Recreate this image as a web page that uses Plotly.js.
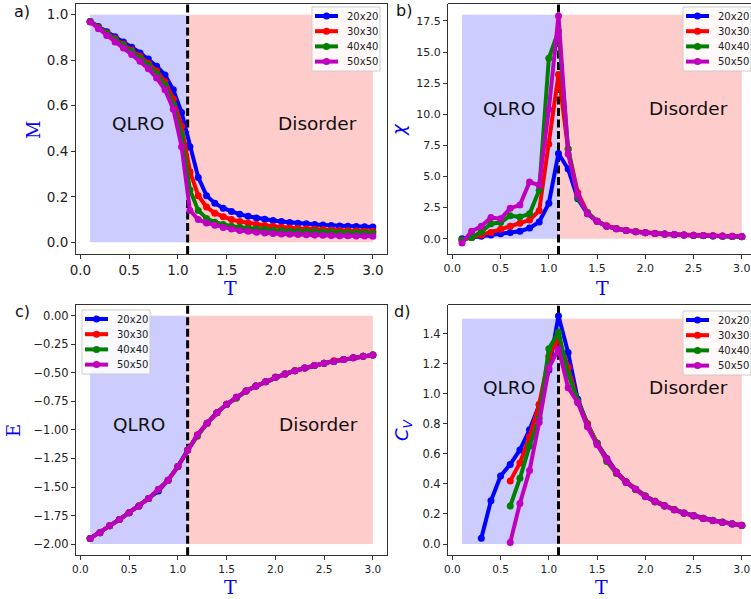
<!DOCTYPE html>
<html>
<head>
<meta charset="utf-8">
<script src="https://cdn.plot.ly/plotly-3.0.1.min.js"></script>
<style>html,body{margin:0;padding:0;background:#fff;}#chart{width:751px;height:599px;}</style>
</head>
<body>
<div id="chart"></div>
<script>
// ---------------- DATA ----------------
const seriesNames = ['20x20', '30x30', '40x40', '50x50'];
const seriesColors = ['#0000ff', '#ff0000', '#008000', '#bf00bf'];

// Panel a) magnetisation (finer temperature grid)
const T_M = [0.100,0.185,0.271,0.356,0.441,0.526,0.612,0.697,0.782,0.868,0.953,1.038,1.124,1.209,1.294,1.379,1.465,1.550,1.635,1.721,1.806,1.891,1.976,2.062,2.147,2.232,2.318,2.403,2.488,2.574,2.659,2.744,2.829,2.915,3.000];
const M_20 = [0.970,0.948,0.925,0.903,0.880,0.857,0.832,0.805,0.773,0.735,0.670,0.570,0.420,0.285,0.205,0.172,0.150,0.135,0.123,0.114,0.107,0.101,0.096,0.091,0.087,0.084,0.081,0.078,0.076,0.074,0.072,0.071,0.069,0.068,0.067];
const M_30 = [0.970,0.945,0.920,0.895,0.870,0.845,0.817,0.787,0.752,0.705,0.630,0.510,0.310,0.205,0.155,0.128,0.112,0.100,0.091,0.084,0.078,0.074,0.070,0.066,0.063,0.061,0.059,0.057,0.055,0.053,0.052,0.051,0.050,0.049,0.048];
const M_40 = [0.970,0.943,0.917,0.891,0.865,0.838,0.809,0.778,0.740,0.690,0.605,0.470,0.230,0.140,0.105,0.088,0.078,0.071,0.066,0.062,0.058,0.056,0.053,0.051,0.049,0.048,0.047,0.046,0.045,0.044,0.043,0.042,0.042,0.041,0.040];
const M_50 = [0.968,0.938,0.908,0.880,0.853,0.825,0.795,0.762,0.722,0.670,0.585,0.420,0.140,0.100,0.085,0.075,0.065,0.058,0.052,0.048,0.044,0.041,0.039,0.037,0.035,0.034,0.033,0.032,0.031,0.030,0.029,0.029,0.028,0.028,0.027];

// Panels b) c) d) temperature grid
const T = [0.1,0.2,0.3,0.4,0.5,0.6,0.7,0.8,0.9,1.0,1.1,1.2,1.3,1.4,1.5,1.6,1.7,1.8,1.9,2.0,2.1,2.2,2.3,2.4,2.5,2.6,2.7,2.8,2.9,3.0];

// b) susceptibility
const CHI_20 = [0.0,0.1,0.2,0.3,0.4,0.5,0.6,0.85,1.35,2.85,6.85,5.6,3.2,2.0,1.4,1.0,0.8,0.65,0.55,0.47,0.42,0.37,0.33,0.30,0.27,0.25,0.22,0.20,0.18,0.16];
const CHI_30 = [-0.1,0.1,0.3,0.5,0.75,1.0,1.25,1.5,2.25,7.6,13.2,7.2,3.7,2.1,1.4,1.05,0.82,0.68,0.57,0.49,0.43,0.38,0.34,0.30,0.27,0.25,0.23,0.21,0.19,0.17];
const CHI_40 = [-0.1,0.1,0.55,1.2,1.3,1.85,1.75,2.0,3.9,14.5,16.7,7.2,3.3,2.1,1.4,1.0,0.8,0.65,0.55,0.47,0.41,0.36,0.32,0.29,0.26,0.24,0.22,0.20,0.18,0.16];
const CHI_50 = [-0.35,0.6,1.0,1.7,1.6,2.45,2.7,4.55,4.3,10.4,17.9,6.8,3.5,2.0,1.4,1.0,0.8,0.65,0.55,0.48,0.42,0.37,0.33,0.30,0.27,0.25,0.23,0.21,0.19,0.17];

// c) energy
const E_20 = [-1.95,-1.90,-1.84,-1.785,-1.725,-1.667,-1.60,-1.535,-1.44,-1.32,-1.175,-1.045,-0.942,-0.850,-0.776,-0.715,-0.660,-0.616,-0.578,-0.540,-0.510,-0.482,-0.458,-0.437,-0.417,-0.400,-0.384,-0.369,-0.356,-0.344];
const E_30 = [-1.95,-1.90,-1.84,-1.785,-1.725,-1.667,-1.60,-1.522,-1.44,-1.32,-1.175,-1.045,-0.942,-0.850,-0.776,-0.715,-0.660,-0.616,-0.578,-0.540,-0.510,-0.482,-0.458,-0.437,-0.417,-0.394,-0.384,-0.369,-0.356,-0.344];
const E_40 = [-1.95,-1.90,-1.84,-1.785,-1.725,-1.667,-1.60,-1.522,-1.44,-1.32,-1.175,-1.055,-0.942,-0.850,-0.776,-0.722,-0.660,-0.616,-0.578,-0.540,-0.510,-0.482,-0.458,-0.437,-0.417,-0.400,-0.384,-0.369,-0.356,-0.344];
const E_50 = [-1.95,-1.90,-1.84,-1.785,-1.725,-1.667,-1.60,-1.520,-1.44,-1.32,-1.175,-1.045,-0.942,-0.850,-0.776,-0.715,-0.660,-0.616,-0.578,-0.540,-0.510,-0.482,-0.458,-0.437,-0.417,-0.400,-0.384,-0.369,-0.356,-0.344];

// d) specific heat
const CV_20 = [null,null,0.038,0.288,0.453,0.530,0.626,0.760,0.925,1.158,1.518,1.274,0.963,0.800,0.670,0.570,0.480,0.415,0.365,0.320,0.285,0.255,0.230,0.207,0.190,0.172,0.158,0.146,0.135,0.125];
const CV_30 = [null,null,null,null,null,0.420,0.540,0.714,0.930,1.250,1.370,1.176,0.950,0.800,0.672,0.565,0.480,0.415,0.364,0.320,0.285,0.255,0.230,0.207,0.188,0.171,0.157,0.145,0.134,0.125];
const CV_40 = [null,null,null,null,null,0.253,0.437,0.652,0.837,1.300,1.410,1.130,0.950,0.785,0.670,0.550,0.470,0.410,0.362,0.318,0.280,0.252,0.228,0.205,0.187,0.170,0.156,0.144,0.133,0.124];
const CV_50 = [null,null,null,null,null,0.011,0.270,0.490,0.810,1.170,1.300,1.040,0.940,0.780,0.660,0.560,0.475,0.410,0.364,0.315,0.282,0.253,0.226,0.204,0.186,0.169,0.155,0.144,0.133,0.124];

// phases
const T_LOW = 0.1, T_C = 1.1, T_HIGH = 3.0;
const phaseLabels = ['QLRO', 'Disorder'];
const panelLabels = ['a)', 'b)', 'c)', 'd)'];

// ticks
const T_TICKS = [0, 0.5, 1.0, 1.5, 2.0, 2.5, 3.0];
const T_TICKTEXT = ['0.0', '0.5', '1.0', '1.5', '2.0', '2.5', '3.0'];
const M_TICKS = [0, 0.2, 0.4, 0.6, 0.8, 1.0];
const M_TICKTEXT = ['0.0', '0.2', '0.4', '0.6', '0.8', '1.0'];
const CHI_TICKS = [0, 2.5, 5, 7.5, 10, 12.5, 15, 17.5];
const CHI_TICKTEXT = ['0.0', '2.5', '5.0', '7.5', '10.0', '12.5', '15.0', '17.5'];
const E_TICKS = [0, -0.25, -0.5, -0.75, -1.0, -1.25, -1.5, -1.75, -2.0];
const E_TICKTEXT = ['0.00', '\u22120.25', '\u22120.50', '\u22120.75', '\u22121.00', '\u22121.25', '\u22121.50', '\u22121.75', '\u22122.00'];
const CV_TICKS = [0, 0.2, 0.4, 0.6, 0.8, 1.0, 1.2, 1.4];
const CV_TICKTEXT = ['0.0', '0.2', '0.4', '0.6', '0.8', '1.0', '1.2', '1.4'];

// ---------------- BUILD ----------------
const W = 751, H = 599;
const px = v => v / W;          // pixel x -> paper
const py = v => 1 - v / H;      // pixel y -> paper

const panels = [
  {x: T_M, ys: [M_20, M_30, M_40, M_50], fill: [0, 1.0], ylab: 'M', yfont: 'DejaVu Serif',
   yticks: M_TICKS, ytext: M_TICKTEXT, yr: [-0.0514, 1.049], xTick: 13.5, yTick: 13.5, textY: 0.52},
  {x: T, ys: [CHI_20, CHI_30, CHI_40, CHI_50], fill: [0, 18], ylab: '<i>\u03c7</i>', yfont: 'DejaVu Sans',
   yticks: CHI_TICKS, ytext: CHI_TICKTEXT, yr: [-1.23, 18.9], xTick: 11, yTick: 11, textY: 10.5},
  {x: T, ys: [E_20, E_30, E_40, E_50], fill: [-2.0, 0], ylab: 'E', yfont: 'DejaVu Serif',
   yticks: E_TICKS, ytext: E_TICKTEXT, yr: [-2.098, 0.098], xTick: 10.5, yTick: 11.5, textY: -0.957},
  {x: T, ys: [CV_20, CV_30, CV_40, CV_50], fill: [0, 1.5], ylab: '<i>C<sub>V</sub></i>', yfont: 'DejaVu Sans',
   yticks: CV_TICKS, ytext: CV_TICKTEXT, yr: [-0.075, 1.594], xTick: 10.5, yTick: 11.5, textY: 1.043}
];

// geometry (pixels)
const xDomPx = [[76, 387], [448, 751], [76, 387], [448, 751]];
const xRanges = [[-0.045, 3.145], [-0.045, 3.095], [-0.045, 3.145], [-0.045, 3.095]];
const yDomPx = [[3.5, 254], [3.5, 254], [304.5, 555.3], [304.5, 555.3]];
const ylabPos = [[33, 130], [398, 130], [13, 430], [403, 430]];
const xlabPos = [[230, 288], [602, 288], [230, 587], [601, 587]];
const panelLabPos = [[22, 11], [404, 10], [22, 311], [402, 311]];
const phaseX = [[0.59, 2.43], [0.585, 2.45], [0.6, 2.44], [0.585, 2.45]];
const legendBox = [[312, 7], [683, 7], [82, 310], [683, 311]];   // top-left corner of each legend

const traces = [];
const shapes = [];
const annotations = [];
const layout = {
  width: W, height: H, autosize: false,
  margin: {l: 0, r: 0, t: 0, b: 0},
  paper_bgcolor: '#ffffff', plot_bgcolor: '#ffffff',
  font: {family: 'DejaVu Sans', color: '#222'},
  showlegend: false
};

panels.forEach((p, i) => {
  const n = i + 1;
  const xa = 'x' + (i ? n : ''), ya = 'y' + (i ? n : '');
  const xkey = 'xaxis' + (i ? n : ''), ykey = 'yaxis' + (i ? n : '');
  const mirror = (i % 2 === 0);

  p.ys.forEach((ys, s) => {
    traces.push({
      type: 'scatter', mode: 'lines+markers',
      x: p.x, y: ys, xaxis: xa, yaxis: ya,
      name: seriesNames[s],
      line: {color: seriesColors[s], width: 4},
      marker: {color: seriesColors[s], size: 7}
    });
  });

  layout[xkey] = {
    domain: [px(xDomPx[i][0]), px(xDomPx[i][1])], range: xRanges[i], anchor: ya,
    showgrid: false, zeroline: false, showline: true, linecolor: '#333', linewidth: 1, mirror: mirror,
    ticks: 'outside', ticklen: 4, tickwidth: 1, tickcolor: '#333',
    tickmode: 'array', tickvals: T_TICKS, ticktext: T_TICKTEXT,
    tickfont: {size: p.xTick, family: 'DejaVu Sans', color: '#222'}
  };
  layout[ykey] = {
    domain: [py(yDomPx[i][1]), py(yDomPx[i][0])], range: p.yr, anchor: xa,
    showgrid: false, zeroline: false, showline: true, linecolor: '#333', linewidth: 1, mirror: mirror,
    ticks: 'outside', ticklen: 4, tickwidth: 1, tickcolor: '#333',
    tickmode: 'array', tickvals: p.yticks, ticktext: p.ytext,
    tickfont: {size: p.yTick, family: 'DejaVu Sans', color: '#222'}
  };

  // phase regions
  shapes.push({type: 'rect', xref: xa, yref: ya, x0: T_LOW, x1: T_C, y0: p.fill[0], y1: p.fill[1],
    fillcolor: 'rgb(204,204,255)', line: {width: 0}, layer: 'below'});
  shapes.push({type: 'rect', xref: xa, yref: ya, x0: T_C, x1: T_HIGH, y0: p.fill[0], y1: p.fill[1],
    fillcolor: 'rgb(255,204,204)', line: {width: 0}, layer: 'below'});
  // critical temperature
  shapes.push({type: 'line', xref: xa, yref: ya, x0: T_C, x1: T_C, y0: p.yr[0], y1: p.yr[1],
    line: {color: '#000', width: 3, dash: '8px,3.5px'}, layer: 'below'});
  if (!mirror) {
    shapes.push({type: 'line', xref: xa + ' domain', yref: ya + ' domain', x0: 0, x1: 1, y0: 1, y1: 1,
      line: {color: '#333', width: 1}});
  }

  // phase labels
  phaseLabels.forEach((lab, k) => {
    annotations.push({xref: xa, yref: ya, x: phaseX[i][k], y: p.textY, text: lab, showarrow: false,
      font: {size: 18.5, family: 'DejaVu Sans', color: '#111'}});
  });
  // axis titles
  annotations.push({xref: 'paper', yref: 'paper', x: px(ylabPos[i][0]), y: py(ylabPos[i][1]),
    xanchor: 'center', yanchor: 'middle', text: p.ylab, textangle: -90, showarrow: false,
    font: {size: 18, family: p.yfont, color: '#0000ff'}});
  annotations.push({xref: 'paper', yref: 'paper', x: px(xlabPos[i][0]), y: py(xlabPos[i][1]),
    xanchor: 'center', yanchor: 'middle', text: 'T', showarrow: false,
    font: {size: 19, family: 'DejaVu Serif', color: '#0000ff'}});
  // panel letters
  annotations.push({xref: 'paper', yref: 'paper', x: px(panelLabPos[i][0]), y: py(panelLabPos[i][1]),
    xanchor: 'center', yanchor: 'middle', text: panelLabels[i], showarrow: false,
    font: {size: 16, family: 'DejaVu Sans', color: '#111'}});

  // legend (matplotlib style box)
  const [bx, by] = legendBox[i];
  shapes.push({type: 'rect', xref: 'paper', yref: 'paper', x0: px(bx), x1: px(bx + 68), y0: py(by + 64), y1: py(by),
    fillcolor: 'rgba(255,255,255,0.85)', line: {color: '#cccccc', width: 1}, layer: 'above'});
  seriesNames.forEach((name, s) => {
    const yy = by + 9 + 15.2 * s;
    shapes.push({type: 'line', xref: 'paper', yref: 'paper', x0: px(bx + 3), x1: px(bx + 26), y0: py(yy), y1: py(yy),
      line: {color: seriesColors[s], width: 4}, layer: 'above'});
    shapes.push({type: 'circle', xref: 'paper', yref: 'paper', x0: px(bx + 11), x1: px(bx + 18), y0: py(yy + 3.5), y1: py(yy - 3.5),
      fillcolor: seriesColors[s], line: {width: 0}, layer: 'above'});
    annotations.push({xref: 'paper', yref: 'paper', x: px(bx + 33), y: py(yy), xanchor: 'left', yanchor: 'middle',
      text: name, showarrow: false, font: {size: 10, family: 'DejaVu Sans', color: '#222'}});
  });
});

layout.shapes = shapes;
layout.annotations = annotations;

Plotly.newPlot('chart', traces, layout, {displayModeBar: false, staticPlot: true});
</script>
</body>
</html>
